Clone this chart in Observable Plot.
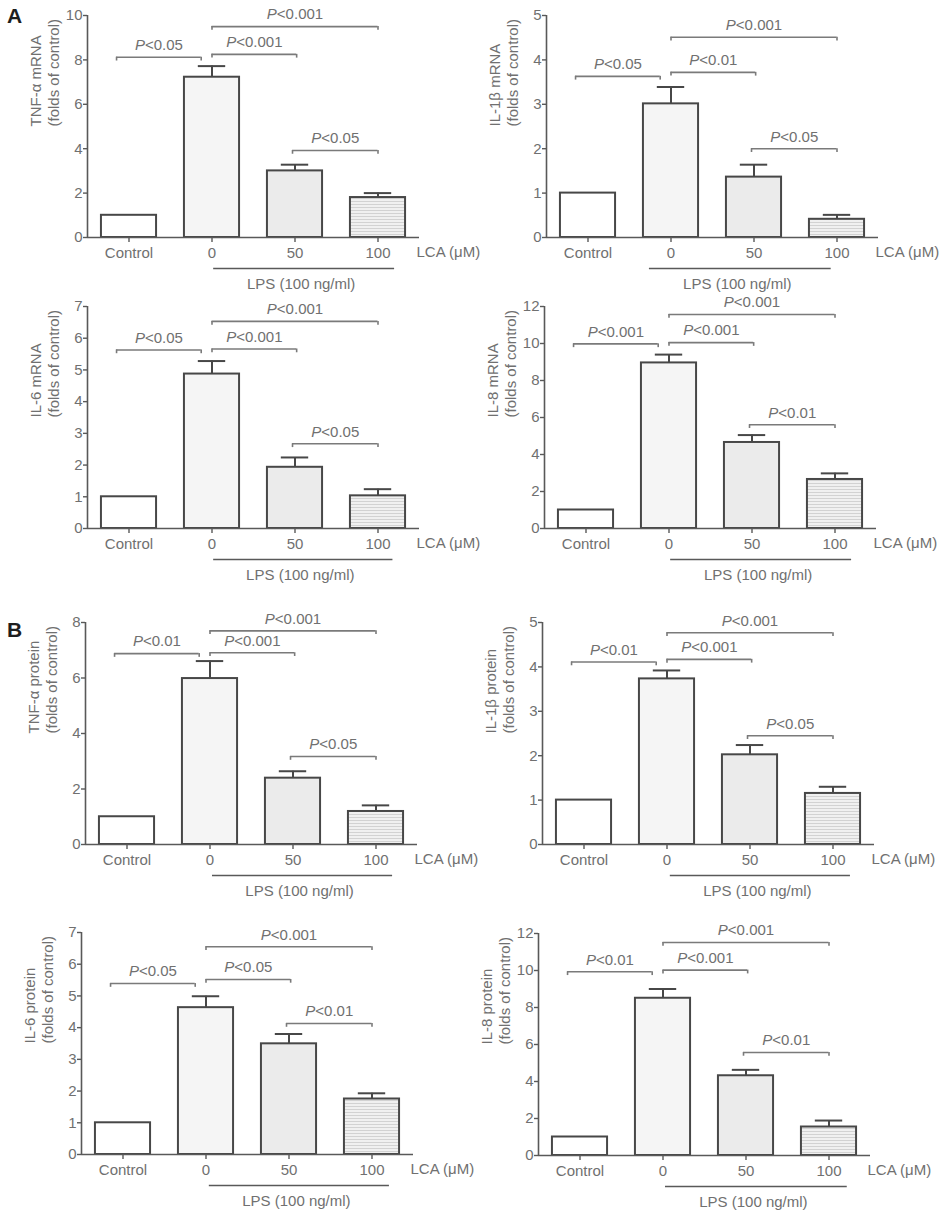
<!DOCTYPE html>
<html>
<head>
<meta charset="utf-8">
<script src="https://cdn.jsdelivr.net/npm/d3@7"></script>
<script src="https://cdn.jsdelivr.net/npm/@observablehq/plot@0.6"></script>
<style>
  body { margin: 0; background: #fff; }
  #wrap { position: relative; width: 945px; height: 1217px; overflow: hidden; background: #fff; font-family: "Liberation Sans", Arial, sans-serif; }
  .panel { position: absolute; }
  .letter { position: absolute; font: bold 21px/21px "Liberation Sans", Arial, sans-serif; color: #1e1e1e; }
</style>
</head>
<body>
<svg width="0" height="0" style="position:absolute">
  <defs>
    <pattern id="hlines" width="6" height="3" patternUnits="userSpaceOnUse">
      <rect width="6" height="3" fill="#f0f0f0"></rect>
      <rect y="2" width="6" height="1" fill="#d2d2d2"></rect>
    </pattern>
  </defs>
</svg>
<div id="wrap">
  <div class="letter" style="left:7px;top:5px">A</div>
  <div class="letter" style="left:7px;top:619px">B</div>
</div>
<script>
// ---- data ----
const categories = ["Control", "0", "50", "100"];
const comparisons = [["Control", "0"], ["0", "50"], ["0", "100"], ["50", "100"]];
const xUnitLabel = "LCA (μM)";
const lpsLabel = "LPS (100 ng/ml)";
const yTitleSuffix = "(folds of control)";

const panelTitles = ["TNF-α mRNA", "IL-1β mRNA", "IL-6 mRNA", "IL-8 mRNA",
                     "TNF-α protein", "IL-1β protein", "IL-6 protein", "IL-8 protein"];
const yMax = [10, 5, 7, 12, 8, 5, 7, 12];
const yStep = [2, 1, 1, 2, 2, 1, 1, 2];

const tnfMrna = [1, 7.22, 3.0, 1.8],   tnfMrnaErr = [0, 0.5, 0.28, 0.2];
const il1bMrna = [1, 3.01, 1.36, 0.41], il1bMrnaErr = [0, 0.38, 0.28, 0.1];
const il6Mrna = [1, 4.87, 1.93, 1.03],  il6MrnaErr = [0, 0.41, 0.31, 0.21];
const il8Mrna = [1, 8.95, 4.65, 2.65],  il8MrnaErr = [0, 0.45, 0.4, 0.33];
const tnfProt = [1, 5.98, 2.39, 1.19],  tnfProtErr = [0, 0.63, 0.25, 0.22];
const il1bProt = [1, 3.73, 2.02, 1.15], il1bProtErr = [0, 0.19, 0.22, 0.15];
const il6Prot = [1, 4.63, 3.49, 1.75],  il6ProtErr = [0, 0.36, 0.31, 0.18];
const il8Prot = [1, 8.5, 4.31, 1.54],   il8ProtErr = [0, 0.5, 0.32, 0.35];

const tnfMrnaSig = ["P<0.05", "P<0.001", "P<0.001", "P<0.05"];
const il1bMrnaSig = ["P<0.05", "P<0.01", "P<0.001", "P<0.05"];
const il6MrnaSig = ["P<0.05", "P<0.001", "P<0.001", "P<0.05"];
const il8MrnaSig = ["P<0.001", "P<0.001", "P<0.001", "P<0.01"];
const tnfProtSig = ["P<0.01", "P<0.001", "P<0.001", "P<0.05"];
const il1bProtSig = ["P<0.01", "P<0.001", "P<0.001", "P<0.05"];
const il6ProtSig = ["P<0.05", "P<0.05", "P<0.001", "P<0.01"];
const il8ProtSig = ["P<0.01", "P<0.001", "P<0.001", "P<0.01"];

// heights (data units) of the significance brackets
const tnfMrnaBr = [8.12, 8.25, 9.5, 3.92];
const il1bMrnaBr = [3.63, 3.72, 4.51, 2.0];
const il6MrnaBr = [5.63, 5.66, 6.53, 2.67];
const il8MrnaBr = [9.98, 10.05, 11.57, 5.61];
const tnfProtBr = [6.88, 6.91, 7.7, 3.17];
const il1bProtBr = [4.11, 4.17, 4.77, 2.45];
const il6ProtBr = [5.39, 5.52, 6.55, 4.13];
const il8ProtBr = [9.93, 10.02, 11.51, 5.57];

// ---- styling / layout ----
const textColor = "#707070";
const axisColor = "#595959";
const barStroke = "#474747";
const bracketColor = "#7a7a7a";
const fills = ["white", "#f5f5f5", "#ebebeb", "url(#hlines)"];
const barHalf = 0.332, capHalf = 0.165;
const bracketNudge = [[-0.15, -0.13], [0, 0.02], [0, 0], [-0.03, 0]];

const panels = [
  {v: tnfMrna, e: tnfMrnaErr, sig: tnfMrnaSig, br: tnfMrnaBr, ax: 87, top: 15, lps: [0.02, 0.2]},
  {v: il1bMrna, e: il1bMrnaErr, sig: il1bMrnaSig, br: il1bMrnaBr, ax: 546, top: 15, lps: [-0.26, -0.07]},
  {v: il6Mrna, e: il6MrnaErr, sig: il6MrnaSig, br: il6MrnaBr, ax: 87, top: 306, lps: [0.02, 0.18]},
  {v: il8Mrna, e: il8MrnaErr, sig: il8MrnaSig, br: il8MrnaBr, ax: 544, top: 306, lps: [0.02, 0.2]},
  {v: tnfProt, e: tnfProtErr, sig: tnfProtSig, br: tnfProtBr, ax: 85, top: 622, lps: [0.03, 0.2]},
  {v: il1bProt, e: il1bProtErr, sig: il1bProtSig, br: il1bProtBr, ax: 542, top: 622, lps: [0.04, 0.21]},
  {v: il6Prot, e: il6ProtErr, sig: il6ProtSig, br: il6ProtBr, ax: 81, top: 932, lps: [0.04, 0.21]},
  {v: il8Prot, e: il8ProtErr, sig: il8ProtSig, br: il8ProtBr, ax: 538, top: 933, lps: [0.03, 0.22]}
];

const ML = 80, MT = 20, FRAME_W = 332, FRAME_H = 222, MB = 60, MR = 18;
const wrap = document.getElementById("wrap");

panels.forEach((p, k) => {
  const ymax = yMax[k];
  const rows = categories.map((c, i) => ({i, cat: c, v: p.v[i], e: p.e[i], fill: fills[i]}));
  const errRows = rows.filter(d => d.e > 0);
  const idx = c => categories.indexOf(c);
  const brackets = comparisons.map(([a, b], j) => ({
    x1: idx(a) + bracketNudge[j][0],
    x2: idx(b) + bracketNudge[j][1],
    y: p.br[j],
    label: p.sig[j]
  }));
  const drop = ymax * 0.017;
  const ends = brackets.flatMap(b => [{x: b.x1, y: b.y}, {x: b.x2, y: b.y}]);
  const lpsX1 = idx("0") + p.lps[0], lpsX2 = idx("100") + p.lps[1];

  const chart = Plot.plot({
    width: ML + FRAME_W + MR,
    height: MT + FRAME_H + MB,
    marginLeft: ML, marginRight: MR, marginTop: MT, marginBottom: MB,
    style: {fontFamily: "'Liberation Sans', Arial, sans-serif", fontSize: "15px", color: textColor, background: "none", overflow: "visible"},
    x: {domain: [-0.5, 3.5]},
    y: {domain: [0, ymax]},
    color: {type: "identity"},
    marks: [
      Plot.rectY(rows, {x1: d => d.i - barHalf, x2: d => d.i + barHalf, y1: 0, y2: "v", fill: "fill", stroke: barStroke, strokeWidth: 2}),
      Plot.ruleX(errRows, {x: "i", y1: "v", y2: d => d.v + d.e, stroke: barStroke, strokeWidth: 2}),
      Plot.ruleY(errRows, {y: d => d.v + d.e, x1: d => d.i - capHalf, x2: d => d.i + capHalf, stroke: barStroke, strokeWidth: 2}),
      Plot.ruleY([0], {stroke: axisColor, strokeWidth: 1.6}),
      Plot.ruleX([-0.5], {stroke: axisColor, strokeWidth: 1.6}),
      Plot.axisY({ticks: d3.range(0, ymax + yStep[k] / 2, yStep[k]), tickFormat: d => String(d), tickSize: 4, tickPadding: 1, label: null, fontSize: 15, stroke: axisColor, strokeWidth: 1.4}),
      Plot.axisX({ticks: [0, 1, 2, 3], tickFormat: i => categories[i], tickSize: 5, tickPadding: 5, label: null, fontSize: 15, stroke: axisColor, strokeWidth: 1.4}),
      Plot.text([xUnitLabel], {x: 3.5, y: 0, dx: -3, dy: 15, textAnchor: "start", fontSize: 15, fill: textColor}),
      Plot.ruleY([0], {x1: lpsX1, x2: lpsX2, dy: 31, stroke: axisColor, strokeWidth: 1.6}),
      Plot.text([lpsLabel], {x: (lpsX1 + lpsX2) / 2, y: 0, dx: -3, dy: 47, fontSize: 15, fill: textColor}),
      Plot.ruleY(brackets, {y: "y", x1: "x1", x2: "x2", stroke: bracketColor, strokeWidth: 1.6}),
      Plot.ruleX(ends, {x: "x", y1: "y", y2: d => d.y - drop, stroke: bracketColor, strokeWidth: 1.6}),
      Plot.text(brackets, {x: d => (d.x1 + d.x2) / 2, y: "y", text: "label", dy: -12, fontSize: 15, fill: textColor, className: "plabel"}),
      Plot.text([panelTitles[k] + "\n" + yTitleSuffix], {frameAnchor: "left", dx: -43, rotate: -90, fontSize: 15, lineHeight: 1.2, fill: textColor})
    ]
  });

  // italic "P" in the significance labels
  d3.select(chart).selectAll(".plabel text").each(function () {
    const t = this.textContent;
    if (t.startsWith("P")) {
      this.textContent = "";
      const s = d3.select(this);
      s.append("tspan").attr("font-style", "italic").text("P");
      s.append("tspan").text(t.slice(1));
    }
  });

  chart.classList.add("panel");
  chart.style.left = (p.ax - ML) + "px";
  chart.style.top = (p.top - MT) + "px";
  chart.style.position = "absolute";
  wrap.appendChild(chart);
});
</script>
</body>
</html>
